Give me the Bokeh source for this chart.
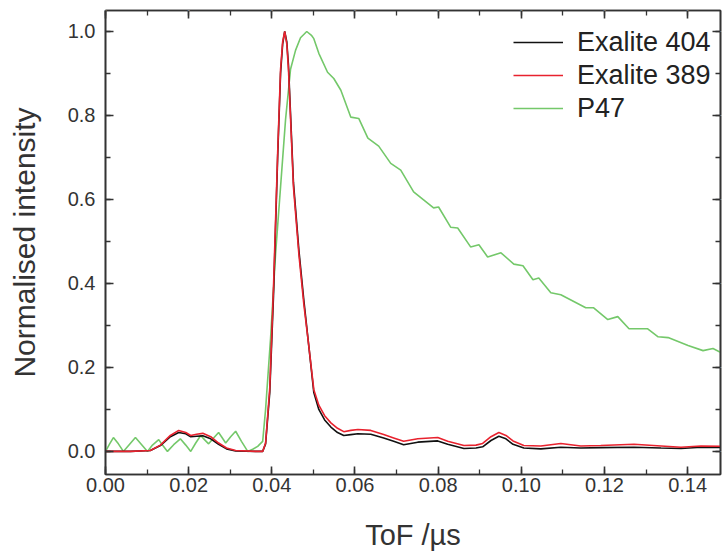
from bokeh.plotting import figure
from bokeh.models import (Range1d, LinearAxis, SingleIntervalTicker, NumeralTickFormatter,
                          Legend, LegendItem, ColumnDataSource)
from bokeh.embed import file_html
from bokeh.resources import INLINE

# ---- data ----
tof_exalite = [0.0, 0.0060, 0.0108, 0.0132, 0.0156, 0.0176, 0.0193, 0.0205, 0.0219, 0.0234,
               0.0253, 0.0272, 0.0291, 0.0313, 0.0361, 0.0378, 0.0385, 0.0395, 0.0404, 0.0414,
               0.0421, 0.0426, 0.0431, 0.0436, 0.0440, 0.0452, 0.0465, 0.0477, 0.0489, 0.0501,
               0.0513, 0.0527, 0.0542, 0.0558, 0.0573, 0.0590, 0.0607, 0.0638, 0.0669, 0.0693,
               0.0717, 0.0751, 0.0799, 0.0823, 0.0862, 0.0891, 0.0907, 0.0927, 0.0946, 0.0963,
               0.0980, 0.1006, 0.1047, 0.1095, 0.1143, 0.1191, 0.1271, 0.1336, 0.1384, 0.1432,
               0.1490]

exalite_404 = [0.0, 0.0, 0.002, 0.014, 0.035, 0.045, 0.042, 0.035, 0.036, 0.037,
               0.030, 0.017, 0.006, 0.001, 0.0, 0.0, 0.018, 0.14, 0.37, 0.70,
               0.90, 0.97, 1.0, 0.975, 0.92, 0.64, 0.48, 0.36, 0.25, 0.14,
               0.10, 0.075, 0.058, 0.045, 0.038, 0.040, 0.042, 0.041, 0.032, 0.024,
               0.016, 0.022, 0.025, 0.017, 0.007, 0.008, 0.011, 0.026, 0.036, 0.030,
               0.017, 0.008, 0.006, 0.010, 0.008, 0.009, 0.010, 0.008, 0.007, 0.010,
               0.009]

exalite_389 = [0.0, 0.0, 0.002, 0.015, 0.038, 0.050, 0.045, 0.038, 0.041, 0.043,
               0.035, 0.020, 0.008, 0.002, 0.0, 0.0, 0.02, 0.15, 0.39, 0.71,
               0.91, 0.975, 1.0, 0.97, 0.91, 0.63, 0.47, 0.35, 0.25, 0.147,
               0.11, 0.085, 0.068, 0.055, 0.047, 0.050, 0.052, 0.050, 0.040, 0.032,
               0.024, 0.030, 0.033, 0.024, 0.014, 0.015, 0.019, 0.035, 0.045, 0.038,
               0.025, 0.014, 0.013, 0.019, 0.013, 0.014, 0.017, 0.013, 0.010, 0.013,
               0.012]

tof_p47 = [0.0, 0.0010, 0.0019, 0.0031, 0.0043, 0.0058, 0.0072, 0.0087, 0.0101, 0.0113,
           0.0128, 0.0137, 0.0149, 0.0164, 0.0180, 0.0193, 0.0205, 0.0217, 0.0229, 0.0238,
           0.0248, 0.0260, 0.0272, 0.0279, 0.0289, 0.0301, 0.0313, 0.0327, 0.0342, 0.0354,
           0.0366, 0.0378, 0.0385, 0.0397, 0.0409, 0.0421, 0.0433, 0.0445, 0.0457, 0.0469,
           0.0484, 0.0496, 0.0501, 0.0513, 0.0534, 0.0549, 0.0566, 0.0590, 0.0609, 0.0631,
           0.0657, 0.0686, 0.0710, 0.0741, 0.0765, 0.0789, 0.0801, 0.0830, 0.0847, 0.0878,
           0.0898, 0.0919, 0.0951, 0.0982, 0.1004, 0.1028, 0.1042, 0.1071, 0.1095, 0.1155,
           0.1174, 0.1208, 0.1232, 0.1259, 0.1304, 0.1329, 0.1353, 0.1401, 0.1437, 0.1461,
           0.1490]

p47 = [0.0, 0.018, 0.033, 0.018, 0.0, 0.017, 0.033, 0.016, 0.0, 0.015,
       0.028, 0.015, 0.0, 0.016, 0.030, 0.015, 0.0, 0.020, 0.038, 0.028,
       0.018, 0.032, 0.045, 0.035, 0.020, 0.035, 0.048, 0.024, 0.0, 0.005,
       0.012, 0.024, 0.10, 0.27, 0.47, 0.63, 0.79, 0.91, 0.955, 0.985,
       1.0, 0.99, 0.983, 0.948, 0.903, 0.888, 0.86, 0.796, 0.793, 0.746,
       0.727, 0.686, 0.67, 0.618, 0.599, 0.58, 0.582, 0.534, 0.532, 0.487,
       0.492, 0.463, 0.473, 0.446, 0.442, 0.409, 0.413, 0.378, 0.373, 0.342,
       0.342, 0.314, 0.321, 0.292, 0.292, 0.273, 0.271, 0.252, 0.24, 0.245,
       0.23]

x_tick_step = 0.02
y_tick_step = 0.2

FONT = "Liberation Sans"
AXC = "#333333"

p = figure(width=724, height=553, output_backend="svg", toolbar_location=None,
           x_range=Range1d(0, 0.1479), y_range=Range1d(-0.055, 1.05),
           min_border_left=105, min_border_right=0, min_border_top=10, min_border_bottom=78,
           background_fill_color="white", border_fill_color="white")
p.outline_line_color = AXC
p.outline_line_width = 1.6
p.xgrid.visible = False
p.ygrid.visible = False

src_e = ColumnDataSource(dict(x=tof_exalite, a=exalite_404, b=exalite_389))
src_p = ColumnDataSource(dict(x=tof_p47, y=p47))

r_p47 = p.line("x", "y", source=src_p, line_color="#74c86a", line_width=1.6)
r_404 = p.line("x", "a", source=src_e, line_color="#111111", line_width=1.6)
r_389 = p.line("x", "b", source=src_e, line_color="#e8222e", line_width=1.6)


def style(ax):
    ax.axis_line_color = AXC
    ax.axis_line_width = 1.6
    ax.major_tick_line_color = AXC
    ax.major_tick_line_width = 1.6
    ax.minor_tick_line_color = AXC
    ax.minor_tick_line_width = 1.3
    ax.major_tick_in = 8
    ax.major_tick_out = 0
    ax.minor_tick_in = 5
    ax.minor_tick_out = 0
    ax.major_label_text_font = FONT
    ax.major_label_text_font_size = "20px"
    ax.major_label_text_color = AXC
    ax.axis_label_text_font = FONT
    ax.axis_label_text_font_style = "normal"
    ax.axis_label_text_color = AXC


xb = p.xaxis[0]
xb.ticker = SingleIntervalTicker(interval=x_tick_step, num_minor_ticks=2)
xb.formatter = NumeralTickFormatter(format="0.00")
style(xb)
xb.axis_label = "ToF /\u00b5s"
xb.axis_label_text_font_size = "29px"
xb.major_label_standoff = 3
xb.axis_label_standoff = 24

yl = p.yaxis[0]
yl.ticker = SingleIntervalTicker(interval=y_tick_step, num_minor_ticks=2)
yl.formatter = NumeralTickFormatter(format="0.0")
style(yl)
yl.axis_label = "Normalised intensity"
yl.axis_label_text_font_size = "30px"
yl.major_label_standoff = 10
yl.axis_label_standoff = 24

# mirrored tick axes on top and right (ticks only)
xt = LinearAxis(ticker=SingleIntervalTicker(interval=x_tick_step, num_minor_ticks=2),
                formatter=NumeralTickFormatter(format="0.00"))
style(xt)
xt.major_label_text_font_size = "1px"
xt.major_label_text_color = "white"
xt.major_label_standoff = 0
p.add_layout(xt, "above")

yr = LinearAxis(ticker=SingleIntervalTicker(interval=y_tick_step, num_minor_ticks=2),
                formatter=NumeralTickFormatter(format="0.0"))
style(yr)
yr.major_label_text_font_size = "1px"
yr.major_label_text_color = "white"
yr.major_label_standoff = 0
p.add_layout(yr, "right")

legend = Legend(items=[LegendItem(label="Exalite 404", renderers=[r_404]),
                       LegendItem(label="Exalite 389", renderers=[r_389]),
                       LegendItem(label="P47", renderers=[r_p47])],
                location=(408, 350))
legend.border_line_color = None
legend.background_fill_alpha = 0
legend.label_text_font = FONT
legend.label_text_font_size = "27px"
legend.label_text_color = "#222222"
legend.glyph_width = 50
legend.glyph_height = 32
legend.label_height = 32
legend.spacing = 1
legend.padding = 0
legend.margin = 0
legend.label_standoff = 14
p.add_layout(legend)

open("out.html", "w").write(file_html(p, INLINE))
